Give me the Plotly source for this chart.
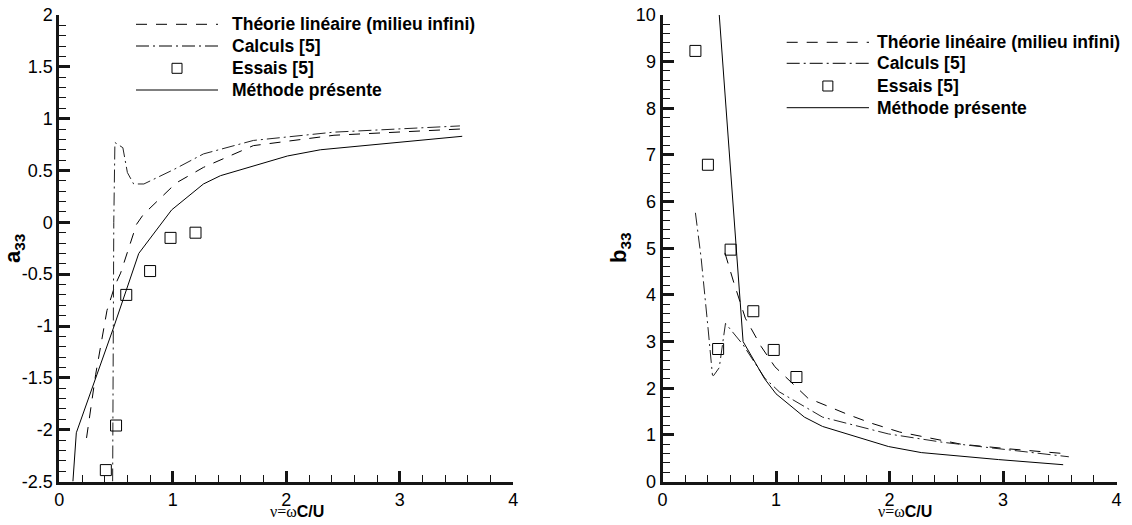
import plotly.graph_objects as go

W, H = 1132, 525

# ---------------- data : a33 (left panel) ----------------
theo_a_x = [0.24, 0.32, 0.42, 0.49, 0.54, 0.61, 0.68, 0.74, 1.03, 1.27, 1.71, 2.42, 3.53]
theo_a_y = [-2.08, -1.47, -0.85, -0.61, -0.49, -0.25, -0.02, 0.075, 0.38, 0.53, 0.74, 0.84, 0.90]

calc_a_x = [0.47, 0.48, 0.49, 0.56, 0.60, 0.655, 0.745, 1.01, 1.27, 1.71, 2.42, 3.53]
calc_a_y = [-2.5, 0.0, 0.77, 0.72, 0.48, 0.37, 0.37, 0.51, 0.66, 0.79, 0.87, 0.93]

ess_a_x = [0.41, 0.50, 0.59, 0.80, 0.98, 1.20]
ess_a_y = [-2.39, -1.96, -0.70, -0.47, -0.15, -0.10]

meth_a_x = [0.12, 0.15, 0.48, 0.70, 0.99, 1.27, 1.42, 2.01, 2.30, 2.95, 3.55]
meth_a_y = [-2.5, -2.03, -1.01, -0.30, 0.12, 0.37, 0.45, 0.64, 0.70, 0.77, 0.83]

# ---------------- data : b33 (right panel) ----------------
theo_b_x = [0.55, 0.63, 0.73, 0.87, 0.99, 1.10, 1.28, 1.46, 1.64, 1.84, 2.09, 2.63, 3.05, 3.58]
theo_b_y = [4.9, 4.25, 3.5, 2.89, 2.46, 2.21, 1.79, 1.61, 1.43, 1.25, 1.06, 0.80, 0.70, 0.59]

calc_b_x = [0.29, 0.34, 0.40, 0.44, 0.45, 0.50, 0.555, 0.71, 0.90, 1.03, 1.41, 1.99, 2.47, 3.58]
calc_b_y = [5.76, 4.8, 3.32, 2.28, 2.27, 2.44, 3.39, 2.93, 2.22, 1.92, 1.38, 1.02, 0.84, 0.53]

ess_b_x = [0.29, 0.40, 0.49, 0.60, 0.80, 0.98, 1.18]
ess_b_y = [9.23, 6.79, 2.84, 4.97, 3.65, 2.82, 2.24]

meth_b_x = [0.50, 0.71, 0.90, 1.00, 1.25, 1.41, 1.99, 2.28, 2.96, 3.53]
meth_b_y = [10.0, 3.0, 2.2, 1.88, 1.38, 1.18, 0.75, 0.62, 0.47, 0.36]

# ---------------- ticks ----------------
x_ticks = [0, 1, 2, 3, 4]
x_labels = ["0", "1", "2", "3", "4"]
ya_ticks = [-2.5, -2, -1.5, -1, -0.5, 0, 0.5, 1, 1.5, 2]
ya_labels = ["-2.5", "-2", "-1.5", "-1", "-0.5", "0", "0.5", "1", "1.5", "2"]
yb_ticks = [0, 1, 2, 3, 4, 5, 6, 7, 8, 9, 10]
yb_labels = [str(v) for v in yb_ticks]

legend_names = ["Théorie linéaire (milieu infini)", "Calculs [5]", "Essais [5]", "Méthode présente"]

DASH = "11px,9px"
DASHDOT = "13px,4px,2px,4px"
FONT = "Arial"
AXC = "#151515"

ML, MR, MT, MB = 40, 10, 10, 30
PW, PH = W - ML - MR, H - MT - MB


def px_x(p):
    return (p - ML) / PW


def px_y(p):
    return (H - MB - p) / PH


L_PX = (59.3, 513.3)
R_PX = (662.5, 1116.5)
TOP_PX, BOT_PX = 15, 481.5
ydom = [px_y(BOT_PX), px_y(TOP_PX)]
xdom1 = [px_x(L_PX[0]), px_x(L_PX[1])]
xdom2 = [px_x(R_PX[0]), px_x(R_PX[1])]

fig = go.Figure()


def add_panel(xa, ya, tx, ty, cx, cy, ex, ey, mx, my):
    fig.add_trace(go.Scatter(x=tx, y=ty, mode="lines", xaxis=xa, yaxis=ya,
                             line=dict(color="black", width=1, dash=DASH), showlegend=False))
    fig.add_trace(go.Scatter(x=cx, y=cy, mode="lines", xaxis=xa, yaxis=ya,
                             line=dict(color="#222222", width=1, dash=DASHDOT), showlegend=False))
    fig.add_trace(go.Scatter(x=mx, y=my, mode="lines", xaxis=xa, yaxis=ya,
                             line=dict(color="black", width=1), showlegend=False))
    fig.add_trace(go.Scatter(x=ex, y=ey, mode="markers", xaxis=xa, yaxis=ya,
                             marker=dict(symbol="square-open", size=11, color="black",
                                         line=dict(width=1, color="black")),
                             showlegend=False))


add_panel("x", "y", theo_a_x, theo_a_y, calc_a_x, calc_a_y, ess_a_x, ess_a_y, meth_a_x, meth_a_y)
add_panel("x2", "y2", theo_b_x, theo_b_y, calc_b_x, calc_b_y, ess_b_x, ess_b_y, meth_b_x, meth_b_y)


def make_axis(dom, rng, anchor, tv, tt, mdt):
    return dict(domain=dom, range=rng, anchor=anchor,
                showline=True, linecolor=AXC, linewidth=3,
                showgrid=False, zeroline=False,
                tickmode="array", tickvals=tv, ticktext=tt,
                ticks="inside", ticklen=11, tickwidth=3, tickcolor=AXC,
                tickfont=dict(family=FONT, size=18, color="#000000"),
                minor=dict(ticks="inside", ticklen=7, tickwidth=1, tickcolor=AXC,
                           dtick=mdt, showgrid=False))


fig.update_layout(
    template="none",
    width=W, height=H,
    margin=dict(l=ML, r=MR, t=MT, b=MB),
    showlegend=False,
    xaxis=make_axis(xdom1, [0, 4], "y", x_ticks, x_labels, 0.2),
    yaxis=make_axis(ydom, [-2.5, 2], "x", ya_ticks, ya_labels, 0.1),
    xaxis2=make_axis(xdom2, [0, 4], "y2", x_ticks, x_labels, 0.2),
    yaxis2=make_axis(ydom, [0, 10], "x2", yb_ticks, yb_labels, 0.2),
)

annotations = []
shapes = []

# axis titles
xtitle = ('<span style="font-family:Liberation Serif">ν=ω</span>'
          '<b>C/U</b>')
for cxp in (297, 905):
    annotations.append(dict(x=px_x(cxp), y=px_y(511), xref="paper", yref="paper",
                            text=xtitle, showarrow=False, xanchor="center", yanchor="middle",
                            font=dict(family=FONT, size=16, color="black")))
annotations.append(dict(x=px_x(14), y=px_y(249), xref="paper", yref="paper",
                        text="<b>a<sub>33</sub></b>", textangle=-90, showarrow=False,
                        xanchor="center", yanchor="middle",
                        font=dict(family=FONT, size=22, color="black")))
annotations.append(dict(x=px_x(620), y=px_y(248), xref="paper", yref="paper",
                        text="<b>b<sub>33</sub></b>", textangle=-90, showarrow=False,
                        xanchor="center", yanchor="middle",
                        font=dict(family=FONT, size=22, color="black")))


# manual legends (long line keys like the original)
def add_legend(x0, x1, xt, rows):
    styles = [("line", DASH), ("line", DASHDOT), ("square", None), ("line", "solid")]
    for (kind, dash), name, ry in zip(styles, legend_names, rows):
        if kind == "line":
            shapes.append(dict(type="line", xref="paper", yref="paper",
                               x0=px_x(x0), x1=px_x(x1), y0=px_y(ry), y1=px_y(ry),
                               line=dict(color="black", width=1, dash=dash)))
        else:
            xc = (x0 + x1) / 2
            shapes.append(dict(type="rect", xref="paper", yref="paper",
                               x0=px_x(xc - 5), x1=px_x(xc + 5), y0=px_y(ry + 5), y1=px_y(ry - 5),
                               line=dict(color="black", width=1)))
        annotations.append(dict(x=px_x(xt), y=px_y(ry), xref="paper", yref="paper",
                                text="<b>%s</b>" % name, showarrow=False,
                                xanchor="left", yanchor="middle",
                                font=dict(family=FONT, size=17.5, color="black")))


add_legend(136, 218, 230, [24.3, 46, 68.3, 90])
add_legend(786.7, 869, 875, [42.3, 63.3, 86, 107.7])

fig.update_layout(annotations=annotations, shapes=shapes)

fig.write_html("out.html")
